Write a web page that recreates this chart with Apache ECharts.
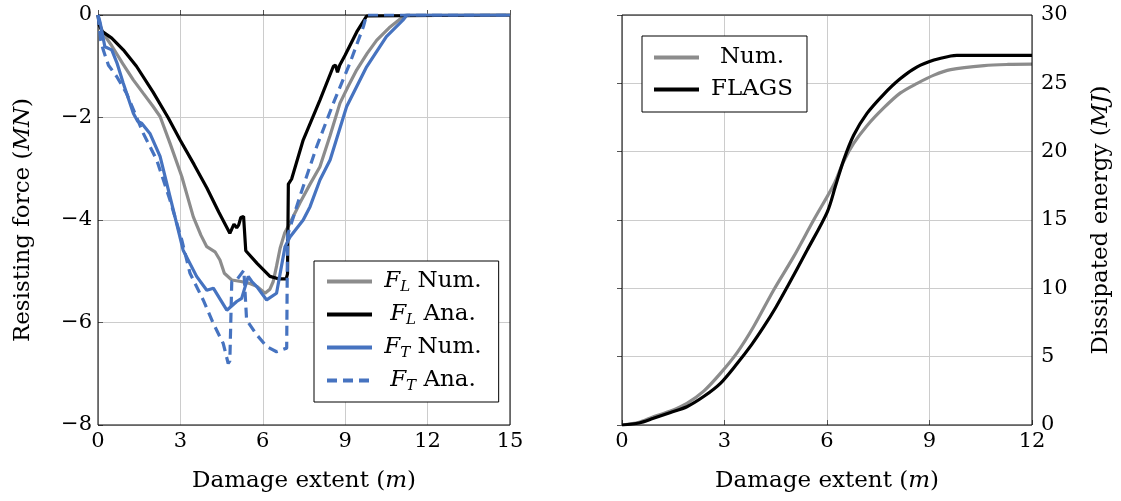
<!DOCTYPE html>
<html><head><meta charset="utf-8">
<script src="https://cdn.jsdelivr.net/npm/echarts@6/dist/echarts.min.js"></script>
<style>html,body{margin:0;padding:0;background:#fff}#c{width:1121px;height:501px}</style>
</head><body><div id="c"></div>
<script>
// Tick values
const extentTicksL = [0, 3, 6, 9, 12, 15];
const forceTicks = [-8, -6, -4, -2, 0];
const extentTicksR = [0, 3, 6, 9, 12];
const energyTicks = [0, 5, 10, 15, 20, 25, 30];

// Left panel: resisting force (MN) vs damage extent (m)
const flNumX = [0, 0.08, 0.19, 0.5, 0.9, 1.29, 1.65, 2.0, 2.26, 2.62, 3.05, 3.47, 3.75, 3.96, 4.26, 4.44, 4.6, 4.87, 5.2, 5.53, 5.8, 6.08, 6.26, 6.38, 6.5, 6.63, 6.8, 6.99, 7.35, 7.72, 8.08, 8.45, 8.81, 9.1, 9.42, 9.8, 10.15, 10.6, 11.0, 11.2, 15];
const flNumY = [0, -0.2, -0.36, -0.6, -0.95, -1.27, -1.53, -1.78, -1.98, -2.5, -3.15, -3.94, -4.3, -4.52, -4.62, -4.78, -5.04, -5.17, -5.2, -5.24, -5.3, -5.43, -5.35, -5.2, -4.9, -4.55, -4.25, -4.06, -3.67, -3.3, -2.96, -2.35, -1.72, -1.4, -1.07, -0.75, -0.49, -0.25, -0.08, 0, 0];

const flAnaX = [0, 0.05, 0.15, 0.5, 0.92, 1.4, 2.0, 2.55, 3.0, 3.5, 3.96, 4.4, 4.8, 4.95, 5.05, 5.12, 5.2, 5.3, 5.38, 5.45, 5.8, 6.26, 6.6, 6.85, 6.9, 6.93, 7.05, 7.47, 8.08, 8.57, 8.65, 8.72, 8.8, 9.0, 9.42, 9.78, 9.85, 15];
const flAnaY = [0, -0.2, -0.32, -0.45, -0.68, -1.0, -1.5, -2.0, -2.45, -2.92, -3.37, -3.85, -4.26, -4.08, -4.15, -4.1, -3.95, -3.93, -4.6, -4.62, -4.85, -5.1, -5.15, -5.15, -5.05, -3.3, -3.2, -2.44, -1.66, -1.0, -0.98, -1.12, -0.98, -0.78, -0.33, -0.02, 0, 0];

const ftNumX = [0, 0.08, 0.25, 0.5, 0.7, 0.92, 1.29, 1.45, 1.59, 1.89, 2.26, 2.68, 3.1, 3.59, 3.96, 4.2, 4.45, 4.69, 5.05, 5.23, 5.47, 5.6, 5.78, 6.14, 6.5, 6.81, 6.99, 7.47, 7.72, 8.08, 8.45, 9.05, 9.78, 10.5, 11.1, 11.25, 15];
const ftNumY = [0, -0.15, -0.62, -0.68, -0.95, -1.33, -1.92, -2.08, -2.11, -2.31, -2.76, -3.67, -4.59, -5.1, -5.37, -5.33, -5.55, -5.76, -5.59, -5.53, -5.1, -5.2, -5.3, -5.56, -5.43, -4.52, -4.33, -4.0, -3.74, -3.22, -2.83, -1.79, -1.01, -0.42, -0.1, 0, 0];

const ftAnaX = [0, 0.1, 0.19, 0.38, 0.68, 1.04, 1.65, 2.14, 2.62, 3.05, 3.35, 3.83, 4.2, 4.56, 4.74, 4.8, 4.87, 5.05, 5.31, 5.41, 5.78, 6.14, 6.5, 6.87, 6.9, 7.35, 7.96, 8.57, 9.17, 9.66, 9.78, 15];
const ftAnaY = [0, -0.5, -0.68, -0.98, -1.2, -1.53, -2.31, -2.83, -3.61, -4.39, -5.04, -5.56, -6.02, -6.41, -6.8, -6.75, -5.2, -5.17, -4.98, -5.95, -6.24, -6.47, -6.57, -6.5, -4.3, -3.54, -2.57, -1.72, -0.94, -0.23, 0, 0];

// Right panel: dissipated energy (MJ) vs damage extent (m)
const enNumX = [0, 0.5, 0.92, 1.4, 1.9, 2.4, 2.88, 3.37, 3.85, 4.44, 5.02, 5.61, 6.2, 6.49, 6.78, 7.17, 7.66, 8.15, 8.64, 9.13, 9.62, 10.6, 11.3, 12];
const enNumY = [0, 0.2, 0.61, 1.0, 1.59, 2.5, 3.78, 5.3, 7.19, 9.88, 12.3, 15.0, 17.6, 19.3, 20.6, 21.9, 23.2, 24.3, 25.0, 25.6, 26.0, 26.3, 26.38, 26.4];

const enFlagsX = [0, 0.5, 0.92, 1.4, 1.9, 2.4, 2.88, 3.37, 3.8, 4.15, 4.5, 4.84, 5.42, 6.01, 6.25, 6.49, 6.78, 7.17, 7.66, 8.15, 8.64, 9.13, 9.62, 9.8, 12];
const enFlagsY = [0, 0.15, 0.49, 0.9, 1.34, 2.1, 3.05, 4.5, 5.9, 7.19, 8.6, 10.12, 12.8, 15.6, 17.5, 19.4, 21.2, 22.8, 24.2, 25.35, 26.2, 26.7, 27.0, 27.05, 27.05];

const seriesNames = ['FL Num.', 'FL Ana.', 'FT Num.', 'FT Ana.', 'Num.', 'FLAGS'];

const FONT = 'DejaVu Serif';
const FS = 21;      // tick labels
const TS = 23;      // titles and legend
const GRAY = '#8c8c8c', BLUE = '#4673c0', BLACK = '#000000';
const pairs = (xs, ys) => xs.map((x, i) => [x, ys[i]]);
const minus = v => (v < 0 ? '\u2212' + Math.abs(v) : String(v));

const richBase = {
  i: { fontFamily: FONT, fontSize: TS, fontStyle: 'italic', color: '#000', lineHeight: 27, align: 'center', verticalAlign: 'middle' },
  s: { fontFamily: FONT, fontSize: 15, fontStyle: 'italic', color: '#000', lineHeight: 15, padding: [12, 0, 0, 0], align: 'center', verticalAlign: 'middle' },
  r: { fontFamily: FONT, fontSize: TS, color: '#000', lineHeight: 27, align: 'center', verticalAlign: 'middle' }
};
const legendLabel = name => {
  if (name.startsWith('FL ') || name.startsWith('FT ')) {
    return '{i|F}{s|' + name[1] + '}{r| ' + name.slice(3) + '}';
  }
  return '{r|' + name + '}';
};

const axisNameRich = {
  r: { fontFamily: FONT, fontSize: TS, color: '#000' },
  i: { fontFamily: FONT, fontSize: TS, color: '#000', fontStyle: 'italic' }
};

const gridLine = { show: true, lineStyle: { color: '#cccccc', width: 1 } };
const tickStyle = { show: true, inside: true, length: 5, lineStyle: { color: '#555' } };

function xAxisFor(gridIndex, ticks) {
  return {
    type: 'value', gridIndex,
    min: ticks[0], max: ticks[ticks.length - 1], interval: ticks[1] - ticks[0],
    axisLine: { show: false }, axisTick: tickStyle, splitLine: gridLine,
    axisLabel: { fontFamily: FONT, fontSize: FS, color: '#000', margin: 6 },
    name: 'Damage extent ({i|m})', nameLocation: 'middle', nameGap: 45,
    nameTextStyle: { fontFamily: FONT, fontSize: TS, color: '#000', rich: axisNameRich }
  };
}

function legendFor(names, left, top, padding, textWidth, gap) {
  return {
    data: names, orient: 'vertical', left, top,
    padding, itemWidth: 45, itemHeight: 25, itemGap: gap,
    backgroundColor: '#fff', borderColor: '#000', borderWidth: 1, borderRadius: 0,
    formatter: legendLabel, selectedMode: false,
    itemStyle: { opacity: 0, borderWidth: 0 },
    lineStyle: { width: 4 },
    textStyle: { width: textWidth, fontFamily: FONT, fontSize: TS, color: '#000', rich: richBase }
  };
}

const chart = echarts.init(document.getElementById('c'), null, { renderer: 'canvas' });
chart.setOption({
  animation: false,
  backgroundColor: '#fff',
  grid: [
    { left: 98, top: 15, width: 412, height: 410, show: true, borderColor: '#000', borderWidth: 1, backgroundColor: 'transparent', z: 3 },
    { left: 622, top: 15, width: 410, height: 410, show: true, borderColor: '#000', borderWidth: 1, backgroundColor: 'transparent', z: 3 }
  ],
  xAxis: [xAxisFor(0, extentTicksL), xAxisFor(1, extentTicksR)],
  yAxis: [
    {
      type: 'value', gridIndex: 0,
      min: forceTicks[0], max: forceTicks[forceTicks.length - 1], interval: forceTicks[1] - forceTicks[0],
      axisLine: { show: false }, axisTick: tickStyle, splitLine: gridLine,
      axisLabel: { fontFamily: FONT, fontSize: FS, color: '#000', margin: 6, formatter: minus },
      name: 'Resisting force ({i|MN})', nameLocation: 'middle', nameGap: 63, nameRotate: 90,
      nameTextStyle: { fontFamily: FONT, fontSize: TS, color: '#000', rich: axisNameRich }
    },
    {
      type: 'value', gridIndex: 1, position: 'right',
      min: energyTicks[0], max: energyTicks[energyTicks.length - 1], interval: energyTicks[1] - energyTicks[0],
      axisLine: { show: false }, axisTick: tickStyle, splitLine: gridLine,
      axisLabel: { fontFamily: FONT, fontSize: FS, color: '#000', margin: 9 },
      name: 'Dissipated energy ({i|MJ})', nameLocation: 'middle', nameGap: 58, nameRotate: 90,
      nameTextStyle: { fontFamily: FONT, fontSize: TS, color: '#000', rich: axisNameRich }
    }
  ],
  legend: [
    legendFor(seriesNames.slice(0, 4), 314, 261, [7, 17, 8, 11], 112, 6),
    legendFor(seriesNames.slice(4), 642, 36, [10, 14, 11, 10], 96, 9)
  ],
  series: [
    { name: seriesNames[0], type: 'line', xAxisIndex: 0, yAxisIndex: 0, symbol: 'none', data: pairs(flNumX, flNumY), lineStyle: { color: GRAY, width: 3.2 }, itemStyle: { color: GRAY }, z: 2 },
    { name: seriesNames[1], type: 'line', xAxisIndex: 0, yAxisIndex: 0, symbol: 'none', data: pairs(flAnaX, flAnaY), lineStyle: { color: BLACK, width: 3.2 }, itemStyle: { color: BLACK }, z: 3 },
    { name: seriesNames[2], type: 'line', xAxisIndex: 0, yAxisIndex: 0, symbol: 'none', data: pairs(ftNumX, ftNumY), lineStyle: { color: BLUE, width: 3.2 }, itemStyle: { color: BLUE }, z: 4 },
    { name: seriesNames[3], type: 'line', xAxisIndex: 0, yAxisIndex: 0, symbol: 'none', data: pairs(ftAnaX, ftAnaY), lineStyle: { color: BLUE, width: 3.2, type: [10, 6] }, itemStyle: { color: BLUE }, z: 5 },
    { name: seriesNames[4], type: 'line', xAxisIndex: 1, yAxisIndex: 1, symbol: 'none', smooth: 0.3, data: pairs(enNumX, enNumY), lineStyle: { color: GRAY, width: 3.2 }, itemStyle: { color: GRAY }, z: 2 },
    { name: seriesNames[5], type: 'line', xAxisIndex: 1, yAxisIndex: 1, symbol: 'none', smooth: 0.3, data: pairs(enFlagsX, enFlagsY), lineStyle: { color: BLACK, width: 3.2 }, itemStyle: { color: BLACK }, z: 3 }
  ]
});
</script>
</body></html>
